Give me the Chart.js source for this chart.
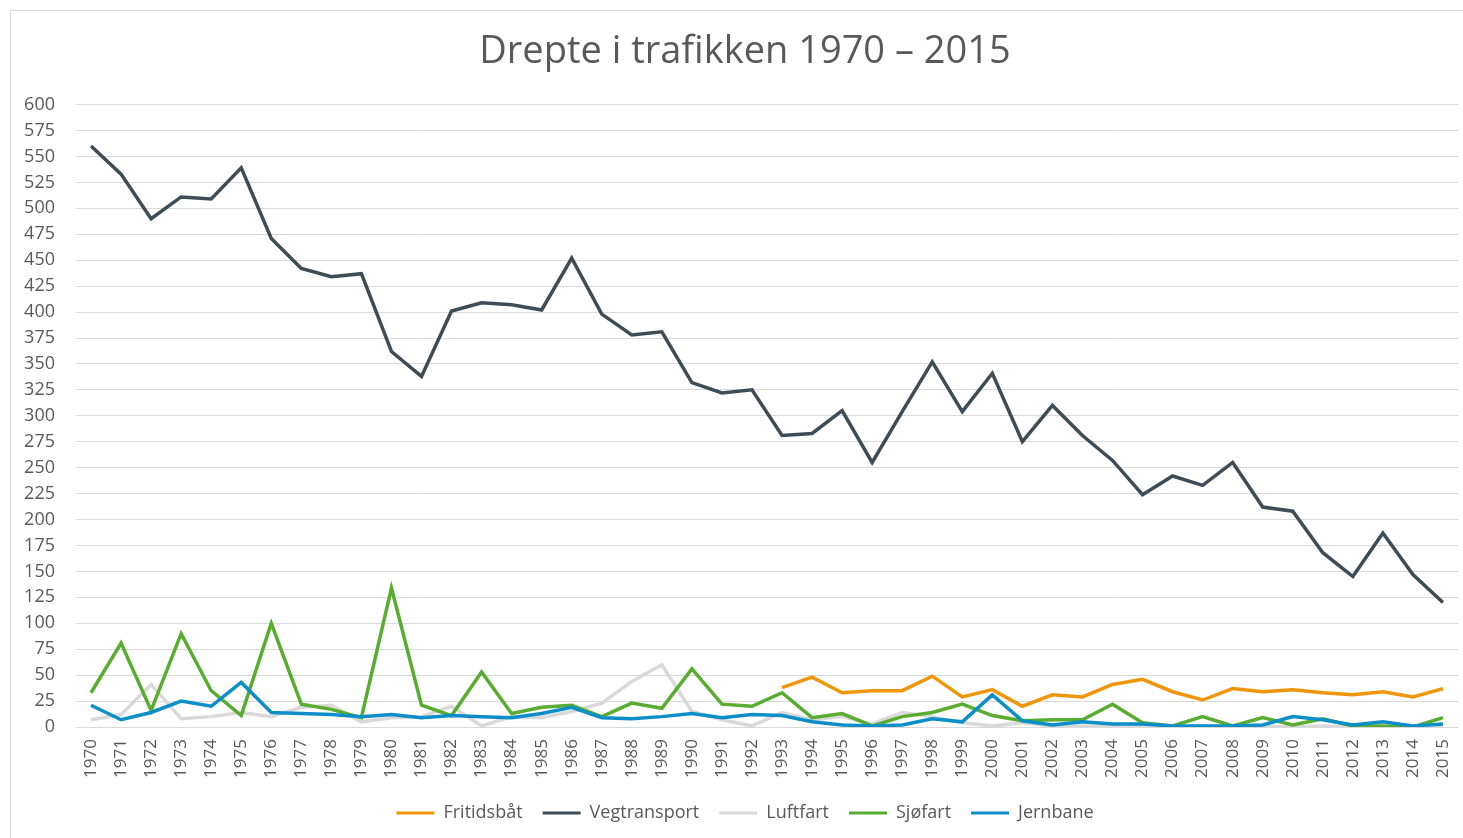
<!DOCTYPE html>
<html lang="no">
<head>
<meta charset="utf-8">
<title>Drepte i trafikken 1970 – 2015</title>
<script src="https://cdn.jsdelivr.net/npm/chart.js@4.4.1/dist/chart.umd.min.js"></script>
<style>
  html, body { margin: 0; padding: 0; background: #fff; overflow: hidden; width: 1463px; height: 838px; }
  .frame { position: absolute; left: 10px; top: 10px; width: 1480px; height: 828px; border-left: 1px solid #d9d9d9; border-top: 1px solid #d9d9d9; box-sizing: border-box; }
  .wrap { position: absolute; left: 0; top: 0; width: 1490px; height: 838px; }
</style>
</head>
<body>
<div class="frame"></div>
<div class="wrap"><canvas id="chart"></canvas></div>
<script>
/* ===== Data ===== */
const years = [];
for (let y = 1970; y <= 2015; y++) years.push(String(y));

const fritidsbat = [
  null, null, null, null, null, null, null, null, null, null,
  null, null, null, null, null, null, null, null, null, null,
  null, null, null, 38, 48, 33, 35, 35, 49, 29,
  36, 20, 31, 29, 41, 46, 34, 26, 37, 34,
  36, 33, 31, 34, 29, 37
];
const vegtransport = [
  560, 533, 490, 511, 509, 539, 471, 442, 434, 437,
  362, 338, 401, 409, 407, 402, 452, 398, 378, 381,
  332, 322, 325, 281, 283, 305, 255, 304, 352, 304,
  341, 275, 310, 281, 257, 224, 242, 233, 255, 212,
  208, 168, 145, 187, 147, 120
];
const luftfart = [
  7, 12, 41, 8, 10, 14, 10, 19, 21, 5,
  9, 10, 20, 1, 10, 9, 15, 23, 44, 60,
  15, 7, 1, 14, 7, 10, 3, 14, 10, 4,
  1, 4, 1, 1, 1, 1, 0, 1, 0, 1,
  0, 1, 0, 0, 0, 0
];
const sjofart = [
  33, 81, 16, 90, 35, 11, 100, 22, 17, 9,
  134, 21, 11, 53, 13, 19, 21, 10, 23, 18,
  56, 22, 20, 33, 9, 13, 1, 10, 14, 22,
  11, 6, 7, 7, 22, 4, 1, 10, 1, 9,
  2, 8, 1, 1, 0, 9
];
const jernbane = [
  21, 7, 14, 25, 20, 43, 14, 13, 12, 10,
  12, 9, 11, 10, 9, 13, 19, 9, 8, 10,
  13, 9, 12, 11, 5, 2, 1, 2, 8, 5,
  31, 6, 2, 5, 3, 3, 1, 1, 1, 2,
  10, 7, 2, 5, 1, 3
];
const yTicks = [0, 25, 50, 75, 100, 125, 150, 175, 200, 225, 250, 275, 300, 325, 350, 375, 400, 425, 450, 475, 500, 525, 550, 575, 600];

/* ===== Chart ===== */
const textColor = '#595959';
const font = '"Open Sans", "Noto Sans", sans-serif';

function series(label, data, color, order){
  return { label, data, borderColor: color, backgroundColor: color, borderWidth: 3.5,
    pointRadius: 0, pointHoverRadius: 0, tension: 0, fill: false, spanGaps: false, order };
}

new Chart(document.getElementById('chart'), {
  type: 'line',
  data: {
    labels: years,
    datasets: [
      series('Fritidsbåt', fritidsbat, '#f0960a', 5),
      series('Vegtransport', vegtransport, '#3e4c56', 4),
      series('Luftfart', luftfart, '#d9d9d9', 3),
      series('Sjøfart', sjofart, '#58ad30', 2),
      series('Jernbane', jernbane, '#0c8ec9', 1)
    ]
  },
  options: {
    responsive: true,
    maintainAspectRatio: false,
    animation: false,
    layout: { padding: { left: 0, right: 0, top: 0, bottom: 6 } },
    plugins: {
      title: {
        display: true,
        text: 'Drepte i trafikken 1970 – 2015',
        color: textColor,
        font: { family: font, size: 38, weight: 'normal' },
        padding: { top: 29, bottom: 30 }
      },
      legend: {
        position: 'bottom',
        labels: {
          color: textColor,
          font: { family: font, size: 18 },
          boxWidth: 38,
          boxHeight: 3,
          padding: 20,
          sort: (a, b) => a.datasetIndex - b.datasetIndex,
          generateLabels: chart => chart.data.datasets.map((ds, i) => ({
            text: ds.label, fillStyle: ds.borderColor, strokeStyle: ds.borderColor,
            lineWidth: 0, hidden: false, datasetIndex: i, fontColor: textColor
          }))
        }
      },
      tooltip: { enabled: false }
    },
    scales: {
      x: {
        offset: true,
        grid: { display: false, drawTicks: false },
        border: { display: false },
        ticks: { color: textColor, font: { family: font, size: 17 }, autoSkip: false,
          minRotation: 90, maxRotation: 90, padding: 12 },
        afterFit: s => { s.height = 57; s.paddingLeft = 0; s.paddingRight = 32; }
      },
      y: {
        min: 0, max: 600,
        afterBuildTicks: s => { s.ticks = yTicks.map(v => ({ value: v })); },
        grid: { color: '#d9d9d9', lineWidth: 1, drawTicks: false },
        border: { display: false },
        ticks: { color: textColor, font: { family: font, size: 18 }, padding: 21 },
        afterFit: s => { s.width = 76; s.paddingTop = 0; s.paddingBottom = 0; }
      }
    }
  }
});
</script>
</body>
</html>
